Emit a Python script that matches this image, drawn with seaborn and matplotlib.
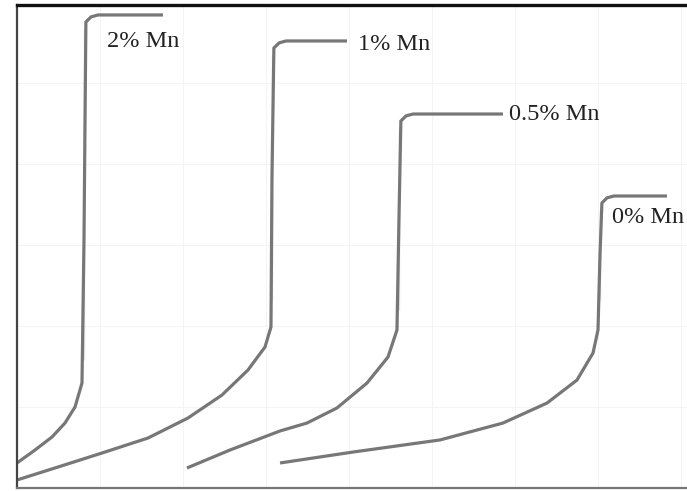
import pandas as pd
import numpy as np
import seaborn as sns
import matplotlib.pyplot as plt

# Curvas (unidades arbitrarias)
x_2mn = [0.0, 0.217, 0.422, 0.578, 0.699, 0.783, 0.807, 0.807, 0.807, 0.830, 0.892, 0.976, 1.759]
y_2mn = [0.309, 0.469, 0.630, 0.802, 1.000, 1.296, 1.580, 1.914, 5.667, 5.753, 5.816, 5.840, 5.840]

x_1mn = [0.0, 0.494, 1.024, 1.578, 2.060, 2.470, 2.783, 2.988, 3.060, 3.072, 3.072, 3.095, 3.157, 3.241, 3.976]
y_1mn = [0.099, 0.259, 0.432, 0.617, 0.864, 1.148, 1.457, 1.741, 1.988, 2.321, 5.346, 5.432, 5.495, 5.519, 5.519]

x_05mn = [2.048, 2.566, 3.169, 3.494, 3.855, 4.217, 4.470, 4.578, 4.602, 4.602, 4.625, 4.687, 4.771, 5.855]
y_05mn = [0.247, 0.469, 0.704, 0.802, 0.988, 1.296, 1.617, 1.951, 2.198, 4.444, 4.531, 4.594, 4.617, 4.617]

x_0mn = [3.169, 4.048, 5.096, 5.855, 6.386, 6.747, 6.940, 7.000, 7.024, 7.024, 7.047, 7.108, 7.193, 7.831]
y_0mn = [0.309, 0.444, 0.593, 0.802, 1.049, 1.333, 1.667, 1.951, 2.321, 3.432, 3.519, 3.582, 3.605, 3.605]

etiquetas = ['2% Mn', '1% Mn', '0.5% Mn', '0% Mn']
etiqueta_x = [1.084, 4.108, 5.928, 7.169]
etiqueta_y = [5.444, 5.407, 4.543, 3.272]

#------------------------------------------------------------------------------
curvas = [(x_2mn, y_2mn), (x_1mn, y_1mn), (x_05mn, y_05mn), (x_0mn, y_0mn)]
filas = []
for nombre, (xs, ys) in zip(etiquetas, curvas):
    for a, b in zip(xs, ys):
        filas.append({'curva': nombre, 'x': a, 'y': b})
datos = pd.DataFrame(filas)

sns.set_style('white')
plt.rcParams['font.family'] = ['Liberation Serif', 'DejaVu Serif']

fig = plt.figure(figsize=(6.87, 4.91), dpi=100)
ax = fig.add_axes([17 / 687, 3 / 491, 1 - 17 / 687, 483 / 491])

for nombre in etiquetas:
    sub = datos[datos['curva'] == nombre]
    sns.lineplot(data=sub, x='x', y='y', sort=False, color='#777777',
                 linewidth=2.3, ax=ax, solid_joinstyle='round',
                 solid_capstyle='butt')

for texto, tx, ty in zip(etiquetas, etiqueta_x, etiqueta_y):
    ax.text(tx, ty, texto, fontsize=17.5, color='#222222', va='baseline',
            ha='left', clip_on=False)

ax.set_xlim(0, 670 / 83)
ax.set_ylim(0, 483 / 81)
ax.set_xticks(np.arange(1, 9))
ax.set_yticks(np.arange(1, 6))
ax.grid(True, color='#f3f3f3', linewidth=0.6)
ax.tick_params(length=0, labelbottom=False, labelleft=False)
ax.set_xlabel('')
ax.set_ylabel('')

ax.spines['top'].set_color('#111111')
ax.spines['top'].set_linewidth(2.4)
ax.spines['left'].set_color('#444444')
ax.spines['left'].set_linewidth(1.6)
ax.spines['bottom'].set_color('#777777')
ax.spines['bottom'].set_linewidth(1.6)
ax.spines['right'].set_visible(False)

plt.savefig('out.png', dpi=100)
